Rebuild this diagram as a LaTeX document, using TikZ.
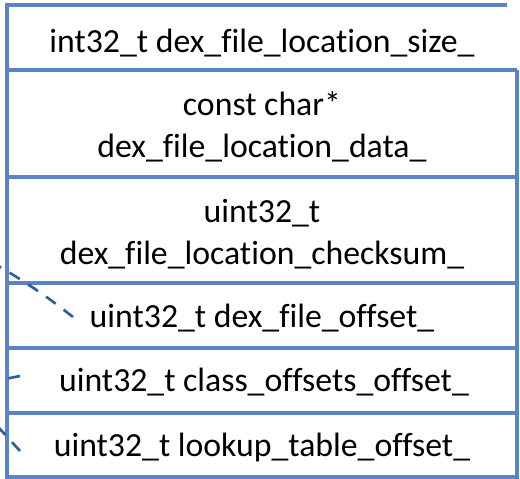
\documentclass[tikz,border=0pt]{standalone}
\usepackage{fontspec}
\setmainfont{Carlito}[Ligatures={NoCommon}]
\definecolor{kader}{HTML}{5A84C2}
\definecolor{verwijzing}{HTML}{30609A}

\begin{document}
\begin{tikzpicture}[x=0.025cm, y=-0.025cm,
  veld/.style={font=\fontsize{24}{30}\selectfont, align=center, inner sep=0pt},
  rand/.style={draw=kader, line width=2.3pt},
  pijl/.style={draw=verwijzing, line width=1.9pt, dash pattern=on 8.5pt off 7pt}]

  \useasboundingbox (0,0) rectangle (520,479);
  \clip (0,0) rectangle (520,479);

  % Hoekpunten van de tabel
  \coordinate (LB) at (7,5);
  \coordinate (RB) at (507,5);
  \coordinate (RM) at (517,70);
  \coordinate (LO) at (7,477);
  \coordinate (RO) at (517,477);

  % Kader
  \draw[rand] (RB) -- (LB) -- (LO) -- (RO) -- (RM);
  \foreach \y in {70,177,283,348,413}
    \draw[rand] (7,\y) -- (517,\y);

  % Velden
  \node[veld] (size)     at (262,43)  {int32\_t dex\_file\_location\_size\_};
  \node[veld] (data)     at (262,127) {const char*\\dex\_file\_location\_data\_};
  \node[veld] (checksum) at (262,234) {uint32\_t\\dex\_file\_location\_checksum\_};
  \node[veld] (offset)   at (262,318) {uint32\_t dex\_file\_offset\_};
  \node[veld] (classes)  at (264,382) {uint32\_t class\_offsets\_offset\_};
  \node[veld] (lookup)   at (262,447) {uint32\_t lookup\_table\_offset\_};

  % Verwijzingen van buiten de figuur
  \coordinate (naar-offset)  at (73,317);
  \coordinate (naar-classes) at (20,376);
  \coordinate (naar-lookup)  at (20,451);
  \coordinate (bron-offset)  at (-30,250);
  \coordinate (bron-classes) at (-30,386);
  \coordinate (bron-lookup)  at (-30,396);

  \draw[pijl] (naar-offset) .. controls (50,299) and (25,280) .. (bron-offset);
  \draw[pijl] (naar-classes) -- (bron-classes);
  \draw[pijl] (naar-lookup) -- (bron-lookup);

\end{tikzpicture}
\end{document}
